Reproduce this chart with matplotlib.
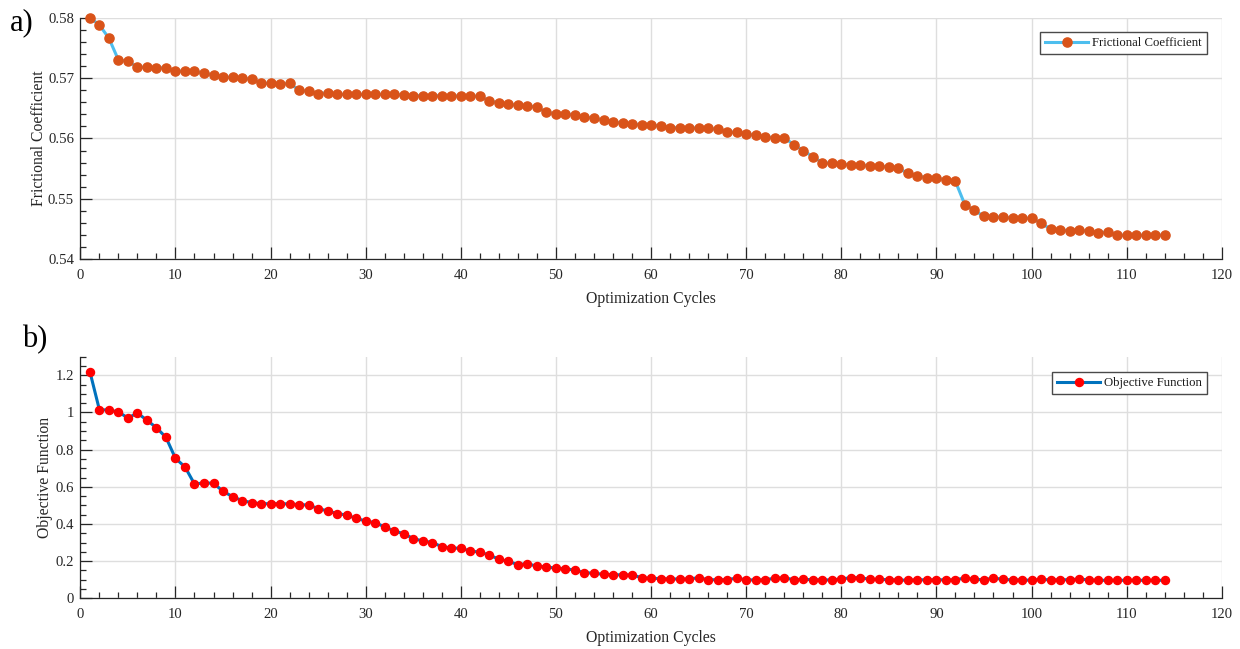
import matplotlib
matplotlib.use("Agg")
import matplotlib.pyplot as plt
from matplotlib.ticker import MultipleLocator, FuncFormatter

plt.rcParams['font.family'] = ['Liberation Serif', 'DejaVu Serif']

cycles = list(range(1, 115))

frictional_coefficient = [
    0.5800, 0.5788, 0.5766, 0.5730, 0.5728, 0.5718, 0.5718, 0.5717, 0.5717, 0.5711,
    0.5712, 0.5711, 0.5708, 0.5705, 0.5702, 0.5701, 0.5700, 0.5698, 0.5692, 0.5691,
    0.5690, 0.5691, 0.5680, 0.5678, 0.5674, 0.5676, 0.5673, 0.5673, 0.5673, 0.5673,
    0.5673, 0.5673, 0.5673, 0.5672, 0.5671, 0.5671, 0.5671, 0.5671, 0.5671, 0.5670,
    0.5670, 0.5670, 0.5662, 0.5659, 0.5657, 0.5655, 0.5654, 0.5652, 0.5643, 0.5641,
    0.5641, 0.5639, 0.5635, 0.5634, 0.5630, 0.5628, 0.5625, 0.5624, 0.5623, 0.5622,
    0.5621, 0.5618, 0.5618, 0.5618, 0.5617, 0.5617, 0.5615, 0.5611, 0.5610, 0.5608,
    0.5605, 0.5603, 0.5601, 0.5601, 0.5590, 0.5580, 0.5570, 0.5560, 0.5559, 0.5558,
    0.5556, 0.5556, 0.5555, 0.5554, 0.5553, 0.5551, 0.5542, 0.5538, 0.5535, 0.5535,
    0.5531, 0.5529, 0.5490, 0.5481, 0.5471, 0.5470, 0.5470, 0.5468, 0.5468, 0.5468,
    0.5460, 0.5450, 0.5449, 0.5447, 0.5449, 0.5446, 0.5444, 0.5445, 0.5440, 0.5440,
    0.5440, 0.5440, 0.5440, 0.5440,
]

objective_function = [
    1.220, 1.015, 1.013, 1.003, 0.970, 0.997, 0.958, 0.918, 0.866, 0.753,
    0.707, 0.615, 0.621, 0.619, 0.576, 0.547, 0.526, 0.515, 0.509, 0.509,
    0.509, 0.508, 0.504, 0.502, 0.483, 0.470, 0.456, 0.448, 0.430, 0.416,
    0.407, 0.384, 0.362, 0.348, 0.321, 0.309, 0.300, 0.278, 0.271, 0.269,
    0.255, 0.248, 0.233, 0.210, 0.199, 0.181, 0.187, 0.172, 0.170, 0.161,
    0.160, 0.151, 0.138, 0.135, 0.129, 0.127, 0.126, 0.126, 0.111, 0.108,
    0.106, 0.104, 0.104, 0.104, 0.111, 0.100, 0.100, 0.100, 0.109, 0.099,
    0.099, 0.100, 0.108, 0.111, 0.100, 0.102, 0.100, 0.099, 0.099, 0.104,
    0.111, 0.111, 0.102, 0.102, 0.100, 0.099, 0.097, 0.100, 0.099, 0.100,
    0.099, 0.100, 0.109, 0.102, 0.100, 0.109, 0.102, 0.099, 0.099, 0.097,
    0.102, 0.099, 0.100, 0.100, 0.104, 0.099, 0.097, 0.097, 0.097, 0.097,
    0.097, 0.097, 0.097, 0.097,
]

xlabel = "Optimization Cycles"
ylabel_a = "Frictional Coefficient"
ylabel_b = "Objective Function"

fig = plt.figure(figsize=(12.4, 6.49), dpi=100)
ax1 = fig.add_axes([0.0648, 0.6005, 0.9205, 0.3723])
ax2 = fig.add_axes([0.0648, 0.0781, 0.9205, 0.3723])

tick_col = '#262626'

def style(ax, ylim, ymajor, yminor):
    ax.set_xlim(0, 120)
    ax.set_ylim(*ylim)
    ax.xaxis.set_major_locator(MultipleLocator(10))
    ax.xaxis.set_minor_locator(MultipleLocator(2))
    ax.yaxis.set_major_locator(MultipleLocator(ymajor))
    ax.yaxis.set_minor_locator(MultipleLocator(yminor))
    ax.spines['top'].set_visible(False)
    ax.spines['right'].set_visible(False)
    for s in ['left', 'bottom']:
        ax.spines[s].set_color(tick_col)
        ax.spines[s].set_linewidth(0.9)
    ax.tick_params(which='both', direction='in', colors=tick_col, labelsize=10.6,
                   labelcolor=tick_col, width=0.9)
    ax.tick_params(which='major', length=8.5)
    ax.tick_params(which='minor', length=4.3)
    ax.tick_params(axis='x', which='major', pad=7)
    ax.tick_params(axis='y', which='major', pad=4.5)
    ax.grid(True, which='major', color='#dedede', linewidth=1.0)
    ax.set_axisbelow(True)
    ax.set_xlabel(xlabel, fontsize=11.3, color=tick_col, labelpad=6.5)

ax1.plot(cycles, frictional_coefficient, color='#4DBEEE', linewidth=2.2,
         marker='o', markersize=6.6, markerfacecolor='#D95319',
         markeredgecolor='#D95319', label='Frictional Coefficient', clip_on=False, zorder=3)
style(ax1, (0.54, 0.58), 0.01, 0.002)
ax1.yaxis.set_major_formatter(FuncFormatter(lambda v, p: f"{v:.2f}"))
ax1.set_ylabel(ylabel_a, fontsize=11.3, color=tick_col, labelpad=1)

ax2.plot(cycles, objective_function, color='#0072BD', linewidth=2.2,
         marker='o', markersize=5.8, markerfacecolor='#FF0000',
         markeredgecolor='#FF0000', label='Objective Function', clip_on=False, zorder=3)
style(ax2, (0, 1.3), 0.2, 0.05)
ax2.yaxis.set_major_formatter(FuncFormatter(
    lambda v, p: "0" if abs(v) < 1e-9 else ("1" if abs(v - 1) < 1e-9 else f"{v:.1f}")))
ax2.set_ylabel(ylabel_b, fontsize=11.3, color=tick_col, labelpad=2)

for ax, top in ((ax1, 0.941), (ax2, 0.937)):
    leg = ax.legend(loc='upper right', bbox_to_anchor=(0.9871, top), borderaxespad=0,
                    fontsize=9.2, fancybox=False, framealpha=1, edgecolor='#4a4a4a',
                    handlelength=3.4, borderpad=0.4, handletextpad=0.3)
    leg.get_frame().set_linewidth(1.0)
    for t in leg.get_texts():
        t.set_color('#1a1a1a')

fig.text(0.008, 0.965, 'a)', fontsize=22, va='center', ha='left')
fig.text(0.018, 0.477, 'b)', fontsize=22, va='center', ha='left')

fig.savefig('out.png', dpi=100)
